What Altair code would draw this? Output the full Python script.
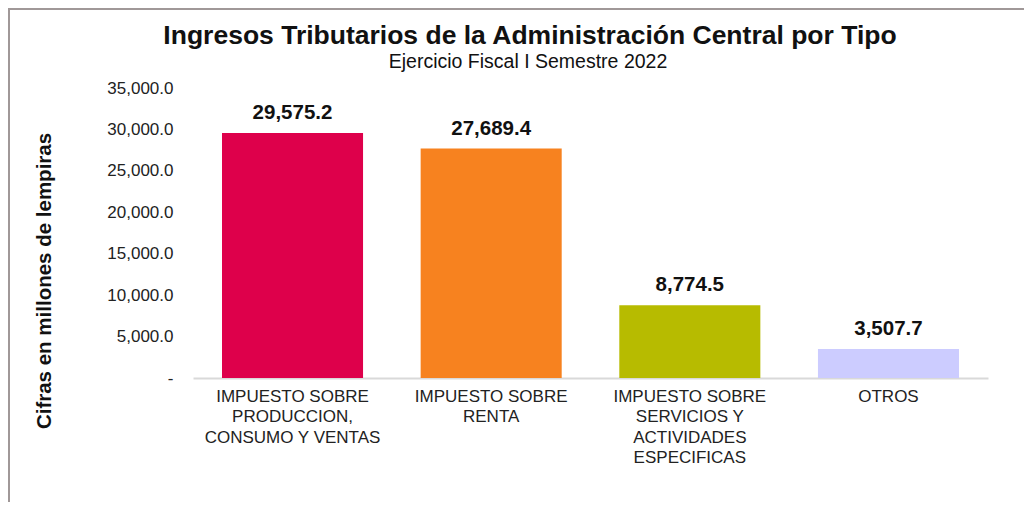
import altair as alt
import pandas as pd

categories = [
    "IMPUESTO SOBRE|PRODUCCION,|CONSUMO Y VENTAS",
    "IMPUESTO SOBRE|RENTA",
    "IMPUESTO SOBRE|SERVICIOS Y|ACTIVIDADES|ESPECIFICAS",
    "OTROS",
]
values = [29575.2, 27689.4, 8774.5, 3507.7]
colors = ["#DE004B", "#F7821F", "#B7BB00", "#CCCCFF"]
y_ticks = [0, 5000, 10000, 15000, 20000, 25000, 30000, 35000]

title_text = "Ingresos Tributarios de la Administración Central por Tipo"
subtitle_text = "Ejercicio Fiscal I Semestre 2022"
y_title_text = "Cifras en millones de lempiras"

FONT = "Liberation Sans"
W, H = 795, 290
PL, PT, PR, PB = 185, 80, 36, 124

df = pd.DataFrame({"cat": categories, "val": values, "color": colors})

x = alt.X(
    "cat:N",
    sort=categories,
    scale=alt.Scale(paddingInner=0.29, paddingOuter=0.146),
    axis=alt.Axis(
        title=None,
        labelAngle=0,
        labelExpr="split(datum.label, '|')",
        labelFont=FONT,
        labelFontSize=17,
        labelLineHeight=20.5,
        labelColor="#222222",
        labelPadding=10,
        ticks=False,
        domainColor="#D9D9D9",
        domainWidth=2,
        labelBaseline="top",
    ),
)
y = alt.Y(
    "val:Q",
    scale=alt.Scale(domain=[0, 35000], nice=False),
    axis=alt.Axis(
        title=None,
        values=y_ticks,
        labelExpr="datum.value == 0 ? '-' : format(datum.value, ',.1f')",
        labelFont=FONT,
        labelFontSize=17,
        labelColor="#222222",
        labelPadding=20,
        ticks=False,
        domain=False,
        grid=False,
    ),
)

base = alt.Chart(df)
bars = base.mark_bar().encode(
    x=x, y=y, color=alt.Color("color:N", scale=None)
)
labels = base.mark_text(
    baseline="bottom", dy=-10, font=FONT, fontSize=20.5, fontWeight="bold", color="#111111"
).encode(
    x=alt.X("cat:N", sort=categories),
    y="val:Q",
    text=alt.Text("val:Q", format=",.1f"),
)

one = pd.DataFrame({"t": [title_text], "s": [subtitle_text], "a": [y_title_text]})
title = alt.Chart(one).mark_text(
    font=FONT, fontSize=26.5, fontWeight="bold", color="#111111", align="center", baseline="alphabetic"
).encode(text="t:N", x=alt.value(337), y=alt.value(-44))
subtitle = alt.Chart(one).mark_text(
    font=FONT, fontSize=19.5, color="#111111", align="center", baseline="alphabetic"
).encode(text="s:N", x=alt.value(335), y=alt.value(-20))
ytitle = alt.Chart(one).mark_text(
    font=FONT, fontSize=20.5, fontWeight="bold", color="#111111", align="center", baseline="middle", angle=270
).encode(text="a:N", x=alt.value(-148), y=alt.value(193))

border_left = alt.Chart(one).mark_rule(color="#A09898", strokeWidth=2).encode(
    x=alt.value(-184), y=alt.value(-79), y2=alt.value(H + PB)
)
border_top = alt.Chart(one).mark_rule(color="#A09898", strokeWidth=2).encode(
    x=alt.value(-185), x2=alt.value(W + PR), y=alt.value(-79)
)

chart = alt.layer(bars, labels, title, subtitle, ytitle, border_left, border_top).properties(
    width=W,
    height=H,
    background="white",
    padding={"left": PL, "top": PT, "right": PR, "bottom": PB},
    autosize=alt.AutoSizeParams(type="none"),
).configure_view(stroke="transparent", strokeWidth=0)

chart.save("out.html", embed_options={"renderer": "svg", "actions": False})
